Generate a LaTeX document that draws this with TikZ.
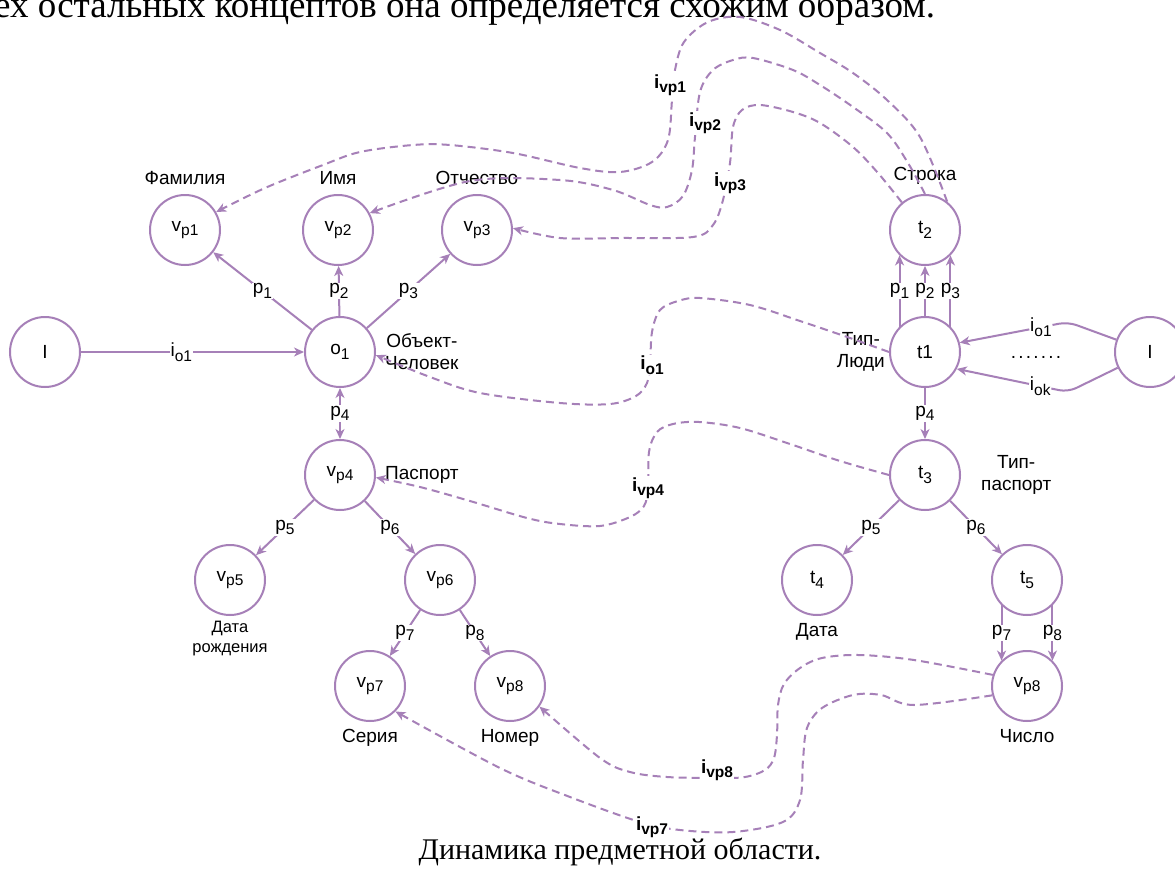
\documentclass[tikz,border=0pt]{standalone}
\usepackage{fontspec}
\setmainfont{Liberation Serif}
\setsansfont{Liberation Sans}
\usepackage{tikz}
\usetikzlibrary{arrows.meta,positioning}
\definecolor{lilac}{HTML}{A680B8}
\newcommand{\sbs}[1]{\raisebox{-0.45ex}{\fontsize{15.5}{16}\selectfont #1}}

\begin{document}
\begin{tikzpicture}[
      x=1pt,y=-1pt,
      >={Stealth[length=10pt,width=9pt,inset=3pt]},
      font=\sffamily\fontsize{19}{22}\selectfont,
      conc/.style={circle,draw=lilac,line width=2pt,minimum size=70pt,inner sep=0pt},
      rel/.style={->,draw=lilac,line width=2pt},
      link/.style={->,draw=lilac,line width=2pt,dash pattern=on 8pt off 5pt},
      lbl/.style={fill=white,inner sep=1pt},
      ilbl/.style={fill=white,inner sep=1pt,font=\sffamily\bfseries\fontsize{19}{22}\selectfont},
      note/.style={align=center,inner sep=1pt},
      small/.style={align=center,inner sep=1pt,font=\sffamily\fontsize{16.5}{20}\selectfont},
      page/.style={inner sep=0pt,font=\rmfamily\fontsize{30}{34}\selectfont}
    ]
    \path[use as bounding box,fill=white] (0,0) rectangle (1175,870);
    \node[page,anchor=base west,font=\rmfamily\fontsize{37}{40}\selectfont] (prev) at (-6,17) {ех остальных концептов она определяется схожим образом.};

    % object side
    \node[conc] (srcL) at (45,352) {I};
    \node[conc] (o1) at (340,352) {o\sbs{1}};
    \node[conc] (vp1) at (185,230) {v\sbs{p1}};
    \node[conc] (vp2) at (338,230) {v\sbs{p2}};
    \node[conc] (vp3) at (477,230) {v\sbs{p3}};
    \node[conc] (vp4) at (340,475) {v\sbs{p4}};
    \node[conc] (vp5) at (230,580) {v\sbs{p5}};
    \node[conc] (vp6) at (440,580) {v\sbs{p6}};
    \node[conc] (vp7) at (370,686) {v\sbs{p7}};
    \node[conc] (vp8) at (510,686) {v\sbs{p8}};

    % type side
    \node[conc] (t2) at (925,230) {t\sbs{2}};
    \node[conc] (t1) at (925,352) {t1};
    \node[conc] (srcR) at (1150,352) {I};
    \node[conc] (t3) at (925,475) {t\sbs{3}};
    \node[conc] (t4) at (817,580) {t\sbs{4}};
    \node[conc] (t5) at (1027,580) {t\sbs{5}};
    \node[conc] (num) at (1027,686) {v\sbs{p8}};

    % names
    \node[note,above=8pt of vp1] (fam) {Фамилия};
    \node[note,above=8pt of vp2] (nam) {Имя};
    \node[note,above=8pt of vp3] (pat) {Отчество};
    \node[note,above=8pt of t2] (str) {Строка};
    \node[note,right=8pt of o1] (obj) {Объект-\\Человек};
    \node[note,right=8pt of vp4] (pasp) {Паспорт};
    \node[note,left=3pt of t1] (tppl) {Тип-\\Люди};
    \node[note,right=19pt of t3] (tpas) {Тип-\\паспорт};
    \node[small,below=4pt of vp5] (born) {Дата\\рождения};
    \node[note,below=6pt of vp7] (ser) {Серия};
    \node[note,below=6pt of vp8] (nmb) {Номер};
    \node[note,below=6pt of t4] (dat) {Дата};
    \node[note,below=6pt of num] (cnt) {Число};

    % relations
    \draw[rel] (srcL) -- node[lbl,pos=.45] {i\sbs{o1}} (o1);
    \draw[rel] (o1) -- node[lbl] {p\sbs{1}} (vp1);
    \draw[rel] (o1) -- node[lbl] {p\sbs{2}} (vp2);
    \draw[rel] (o1) -- node[lbl] {p\sbs{3}} (vp3);
    \draw[rel,<->] (o1) -- node[lbl] {p\sbs{4}} (vp4);
    \draw[rel] (vp4) -- node[lbl] {p\sbs{5}} (vp5);
    \draw[rel] (vp4) -- node[lbl] {p\sbs{6}} (vp6);
    \draw[rel] (vp6) -- node[lbl] {p\sbs{7}} (vp7);
    \draw[rel] (vp6) -- node[lbl] {p\sbs{8}} (vp8);

    \draw[rel] (t1.north west) -- node[lbl] {p\sbs{1}} (t2.south west);
    \draw[rel] (t1) -- node[lbl] {p\sbs{2}} (t2);
    \draw[rel] (t1.north east) -- node[lbl] {p\sbs{3}} (t2.south east);
    \draw[rel] (t1) -- node[lbl] {p\sbs{4}} (t3);
    \draw[rel] (t3) -- node[lbl] {p\sbs{5}} (t4);
    \draw[rel] (t3) -- node[lbl] {p\sbs{6}} (t5);
    \draw[rel] (t5.south west) -- node[lbl] {p\sbs{7}} (num.north west);
    \draw[rel] (t5.south east) -- node[lbl] {p\sbs{8}} (num.north east);

    \coordinate (kA) at (1068,322);
    \coordinate (kB) at (1068,392);
    \draw[rel,rounded corners=9pt] (srcR) -- (kA) -- node[lbl,pos=.25] {i\sbs{o1}} (t1.15);
    \draw[rel,rounded corners=9pt] (srcR) -- (kB) -- node[lbl,pos=.25] {i\sbs{ok}} (t1.-28);
    \node (dots) at (1036,357) {.\kern2.2pt.\kern2.2pt.\kern2.2pt.\kern2.2pt.\kern2.2pt.\kern2.2pt.};

    % instance links
    \draw[link] plot[smooth,tension=.55] coordinates {(t2.52) (920,137) (887,100) (853,73) (820,53) (780,30) (740,17) (708,22) (684,42) (675,70) (672,100) (668,140) (652,162) (620,172) (580,168) (513,153) (450,145) (413,145) (360,152) (323,165) (265,188) (vp1.30)};
    \draw[link] plot[smooth,tension=.55] coordinates {(t2.north) (908,163) (887,133) (853,107) (820,85) (793,70) (753,58) (733,60) (713,70) (700,92) (695,137) (692,170) (683,196) (667,207) (650,205) (613,190) (560,180) (470,181) (vp2.28)};
    \draw[link] plot[smooth,tension=.55] coordinates {(t2.130) (878,173) (853,147) (820,123) (793,112) (760,105) (742,110) (733,127) (730,163) (723,200) (713,225) (693,237) (620,238) (560,238) (vp3.3)};
    \draw[link] plot[smooth,tension=.55] coordinates {(t1.west) (850,338) (800,321) (750,305) (700,298) (678,301) (660,310) (652,332) (650,365) (647,383) (636,396) (610,404) (560,403) (480,393) (430,377) (o1.-5)};
    \draw[link] plot[smooth,tension=.55] coordinates {(t3.west) (840,461) (790,444) (740,428) (699,422) (673,424) (657,432) (649,452) (648,488) (644,506) (630,517) (600,526) (560,524) (527,518) (470,501) (420,487) (vp4.-4)};
    \draw[link] plot[smooth,tension=.55] coordinates {(num.162) (914,660) (859,655) (822,658) (800,668) (784,684) (778,705) (777,735) (774,758) (765,770) (745,777) (717,778) (667,777) (630,772) (600,758) (vp8.-35)};
    \draw[link] plot[smooth,tension=.55] coordinates {(num.195) (914,705) (881,695) (853,695) (822,708) (807,728) (803,760) (800,800) (783,822) (733,832) (680,830) (640,822) (570,797) (500,768) (vp7.-45)};

    \node[ilbl] (ivp1) at (670,85) {i\sbs{vp1}};
    \node[ilbl] (ivp2) at (705,123) {i\sbs{vp2}};
    \node[ilbl] (ivp3) at (730,183) {i\sbs{vp3}};
    \node[ilbl] (io1) at (652,365) {i\sbs{o1}};
    \node[ilbl] (ivp4) at (648,488) {i\sbs{vp4}};
    \node[ilbl] (ivp8) at (717,770) {i\sbs{vp8}};
    \node[ilbl] (ivp7) at (652,827) {i\sbs{vp7}};

    \node[page] (capn) at (620,852) {Динамика предметной области.};
  \end{tikzpicture}
\end{document}
